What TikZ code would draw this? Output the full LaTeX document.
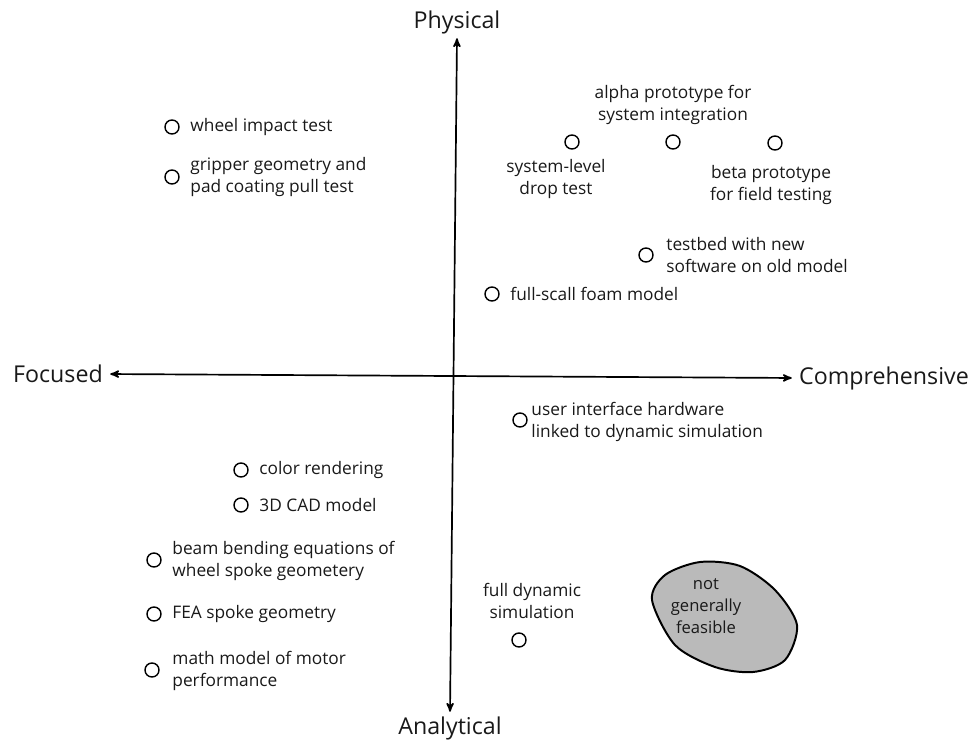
\documentclass[tikz,border=0pt]{standalone}
\usepackage{fontspec}
\setmainfont{Open Sans}
\usepackage{tikz}
\usetikzlibrary{arrows}

\begin{document}
\begin{tikzpicture}[x=0.025cm,y=-0.025cm,
  <->,>=stealth',semithick,
  axis/.style={font=\fontsize{16.5}{20}\selectfont,text=black!90,inner sep=2pt},
  pt/.style={draw,circle,minimum size=0.35cm,inner sep=0pt,line width=1pt,-},
  lbl/.style={font=\fontsize{12.3}{15.5}\selectfont,text=black!90,inner sep=0pt},
  blob/.style={draw,line width=1.4pt,fill=black!27,-}]
      \useasboundingbox (0,0) rectangle (977,742);

      % axes
      \node [axis] (phys) at (457,22) {Physical};
      \node [axis] (anal) at (450,728) {Analytical};
      \node [axis] (focu) at (58,374) {Focused};
      \node [axis] (comp) at (884,378) {Comprehensive};
      \draw [line width=1.2pt,shorten >=1pt,shorten <=1pt] (phys.south) -- (anal.north);
      \draw [line width=1.2pt,shorten >=3pt,shorten <=3pt] (focu.east) -- (comp.west);

      % physical / focused
      \node [pt] (wheel) at (172,127) {};
      \node [lbl,anchor=west] (wheelT) at (190,127) {wheel impact test};
      \node [pt] (grip) at (172,177) {};
      \node [lbl,anchor=west,align=left] (gripT) at (190,177) {gripper geometry and\\pad coating pull test};

      % physical / comprehensive
      \node [pt] (drop) at (572,142) {};
      \node [lbl,align=center] (dropT) at (556,179) {system-level\\drop test};
      \node [pt] (alpha) at (673,142) {};
      \node [lbl,align=center] (alphaT) at (673,105) {alpha prototype for\\system integration};
      \node [pt] (beta) at (775,143) {};
      \node [lbl,align=center] (betaT) at (771,185) {beta prototype\\for field testing};
      \node [pt] (testbed) at (646,255) {};
      \node [lbl,anchor=west,align=left] (testbedT) at (666,255) {testbed with new\\software on old model};
      \node [pt] (foam) at (492,294) {};
      \node [lbl,anchor=west] (foamT) at (510,294) {full-scall foam model};

      % analytical / comprehensive
      \node [pt] (ui) at (520,420) {};
      \node [lbl,anchor=west,align=left] (uiT) at (531,422) {user interface hardware\\linked to dynamic simulation};
      \node [pt] (dyn) at (519,640) {};
      \node [lbl,align=center] (dynT) at (532,601) {full dynamic\\simulation};
      \draw [blob] plot [smooth cycle] coordinates {(652,600) (665,575) (700,562) (740,566) (775,590) (797,625) (785,660) (753,672) (715,667) (675,645)};
      \node [lbl,align=center,font=\fontsize{11.8}{15.5}\selectfont] (nogo) at (706,606) {not\\generally\\feasible};

      % analytical / focused
      \node [pt] (color) at (241,470) {};
      \node [lbl,anchor=west] (colorT) at (259,470) {color rendering};
      \node [pt] (cad) at (241,505) {};
      \node [lbl,anchor=west] (cadT) at (259,505) {3D CAD model};
      \node [pt] (beam) at (154,560) {};
      \node [lbl,anchor=west,align=left] (beamT) at (172,561) {beam bending equations of\\wheel spoke geometery};
      \node [pt] (fea) at (154,614) {};
      \node [lbl,anchor=west] (feaT) at (172,614) {FEA spoke geometry};
      \node [pt] (motor) at (152,670) {};
      \node [lbl,anchor=west,align=left] (motorT) at (172,671) {math model of motor\\performance};

  \end{tikzpicture}
\end{document}
